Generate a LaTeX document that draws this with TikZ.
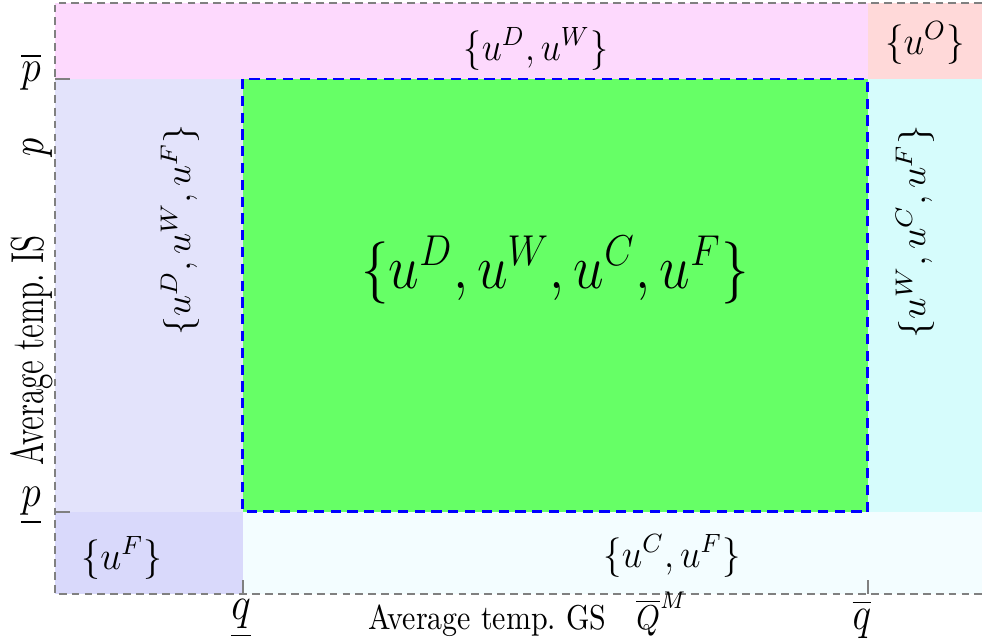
\documentclass[tikz,border=0pt]{standalone}
\usepackage{amsmath}
\usepackage{graphicx}
\definecolor{cTop}{RGB}{253,217,253}
\definecolor{cTopR}{RGB}{255,217,217}
\definecolor{cLeft}{RGB}{227,227,251}
\definecolor{cMid}{RGB}{102,255,102}
\definecolor{cRight}{RGB}{214,252,252}
\definecolor{cBotL}{RGB}{217,217,251}
\definecolor{cBot}{RGB}{243,253,255}
\tikzset{
  frameline/.style={draw=gray, line width=0.4pt, dash pattern=on 2.6pt off 1.7pt},
  tickline/.style={draw=gray, line width=0.4pt},
  feasible/.style={draw=blue, line width=1.0pt, dash pattern=on 3.4pt off 2.2pt},
  lbl/.style={inner sep=0pt, font=\large},
  biglbl/.style={inner sep=0pt, font=\LARGE},
  axlbl/.style={inner sep=0pt, font=\normalsize},
  ylbl/.style={inner sep=0pt, font=\fontsize{11}{13}\selectfont, rotate=90},
}
\begin{document}
\begin{tikzpicture}[x=0.011715cm, y=-0.011715cm]
\useasboundingbox (0,0) rectangle (982,644);
% regions
\fill[cTop] (55,3) rectangle (868,79);
\fill[cTopR] (868,3) rectangle (982,79);
\fill[cLeft] (55,79) rectangle (243,512);
\fill[cMid] (243,79) rectangle (868,512);
\fill[cRight] (868,79) rectangle (982,512);
\fill[cBotL] (55,512) rectangle (243,594);
\fill[cBot] (243,512) rectangle (982,594);
% frame
\draw[frameline] (982,3) -- (55,3) -- (55,594) -- (982,594);
% ticks
\draw[tickline] (55,79) -- (70,79);
\draw[tickline] (55,512) -- (70,512);
\draw[tickline] (243,594) -- (243,580);
\draw[tickline] (868,594) -- (868,580);
% feasible box
\draw[feasible] (243,79) rectangle (868,512);
% region labels
\node[lbl] (ltop) at (536,49) {\scalebox{1}[1.1]{$\{u^D,u^W\}$}};
\node[lbl] (ltopr) at (925,43) {\scalebox{1.03}[1.1]{$\{u^O\}$}};
\node[biglbl] (lmid) at (555,270) {\scalebox{1.06}[1.2]{$\{u^D,u^W,u^C,u^F\}$}};
\node[lbl, rotate=90] (lleft) at (180,230) {\scalebox{1.05}[1]{$\{u^D,u^W,u^F\}$}};
\node[lbl, rotate=90] (lright) at (915,232) {\scalebox{1.07}[1]{$\{u^W,u^C,u^F\}$}};
\node[lbl] (lbotl) at (122,558) {\scalebox{1.05}[1.1]{$\{u^F\}$}};
\node[lbl] (lbot) at (672,556) {\scalebox{1.02}[1.1]{$\{u^C,u^F\}$}};
% axis labels
\node[lbl] (pbar) at (31,72) {\scalebox{1.1}[1.25]{$\overline{p}$}};
\node[lbl] (punder) at (31,506) {\scalebox{1.1}[1.25]{$\underline{p}$}};
\node[lbl] (qunder) at (241,619) {\scalebox{1.15}[1.3]{$\underline{q}$}};
\node[lbl] (qbar) at (862,619) {\scalebox{1.1}[1.3]{$\overline{q}$}};
\node[axlbl, anchor=base west] (xlab) at (368,630) {\scalebox{1}[1.15]{Average temp.\ GS\quad $\overline{Q}^M$}};
\node[ylbl, anchor=base west] (ylab) at (43,466) {\scalebox{0.95}[1.4]{Average temp.\ IS}};
\node[ylbl, anchor=base] (yp) at (43,147) {\scalebox{1.1}[1.4]{$p$}};
\end{tikzpicture}
\end{document}
